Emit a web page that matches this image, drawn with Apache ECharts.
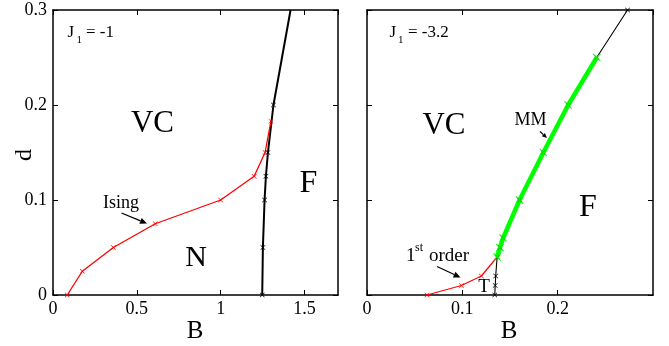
<!DOCTYPE html>
<html>
<head>
<meta charset="utf-8">
<script src="https://cdn.jsdelivr.net/npm/echarts@6/dist/echarts.min.js"></script>
<style>
  html, body { margin: 0; padding: 0; background: #fff; }
  #chart { width: 669px; height: 346px; }
</style>
</head>
<body>
<div id="chart"></div>
<script>
// Phase boundaries in the (B, d) plane

// J1 = -1
const isingB1 = [0.085, 0.175, 0.36, 0.61, 1.0, 1.2, 1.265, 1.30];
const isingD1 = [0, 0.025, 0.05, 0.075, 0.1, 0.125, 0.15, 0.183];
const ferroB1 = [1.248, 1.252, 1.262, 1.27, 1.282, 1.315, 1.417];
const ferroD1 = [0, 0.05, 0.1, 0.125, 0.15, 0.2, 0.3];

// J1 = -3.2
const firstOrderB2 = [0.063, 0.099, 0.12, 0.1365];
const firstOrderD2 = [0, 0.01, 0.02, 0.04];
const ferroB2 = [0.134, 0.1345, 0.135, 0.1365, 0.1395, 0.1428, 0.16, 0.185, 0.211, 0.241, 0.2733];
const ferroD2 = [0, 0.01, 0.02, 0.04, 0.05, 0.06, 0.1, 0.15, 0.2, 0.25, 0.3];
const mmB2 = [0.1365, 0.1395, 0.1428, 0.16, 0.185, 0.211, 0.241];
const mmD2 = [0.04, 0.05, 0.06, 0.1, 0.15, 0.2, 0.25];

// axis ranges
const bTicksLeft = { min: 0, max: 1.7, interval: 0.5 };
const bTicksRight = { min: 0, max: 0.3, interval: 0.1 };
const dTicks = { min: 0, max: 0.3, interval: 0.1 };

const SERIF = '"Liberation Serif", "DejaVu Serif", serif';
const CROSS = 'path://M0,0.8L0.8,0L5,4.2L9.2,0L10,0.8L5.8,5L10,9.2L9.2,10L5,5.8L0.8,10L0,9.2L4.2,5Z';

function pairs(xs, ys) { return xs.map((x, i) => [x, ys[i]]); }
function fmt(v) { return String(+(+v).toFixed(3)); }

function xAxisFor(grid, range, pos, labels) {
  return {
    type: 'value', gridIndex: grid, position: pos,
    min: range.min, max: range.max, interval: range.interval,
    axisLine: { show: true, onZero: false, lineStyle: { color: '#000', width: 1.5 } },
    axisTick: { show: true, inside: true, length: 5, lineStyle: { color: '#000', width: 1 } },
    axisLabel: { show: labels, showMaxLabel: false, margin: 5, color: '#000',
                 fontFamily: SERIF, fontSize: 18, formatter: fmt },
    splitLine: { show: false }
  };
}
function yAxisFor(grid, range, pos, labels) {
  return {
    type: 'value', gridIndex: grid, position: pos,
    min: range.min, max: range.max, interval: range.interval,
    axisLine: { show: true, onZero: false, lineStyle: { color: '#000', width: 1.5 } },
    axisTick: { show: true, inside: true, length: 5, lineStyle: { color: '#000', width: 1 } },
    axisLabel: { show: labels, margin: 6, color: '#000',
                 fontFamily: SERIF, fontSize: 18, formatter: fmt },
    splitLine: { show: false }
  };
}

function lineSeries(xi, yi, data, color, width, symSize, hideLast) {
  return {
    type: 'line', xAxisIndex: xi, yAxisIndex: yi,
    data: data.map((p, i) => (hideLast && i === data.length - 1) ? { value: p, symbol: 'none' } : p),
    symbol: CROSS, symbolSize: symSize, showSymbol: true,
    lineStyle: { color: color, width: width },
    itemStyle: { color: color },
    clip: true, animation: false, z: 2
  };
}

function txt(x, y, s, size, extra) {
  return Object.assign({
    type: 'text', x: x, y: y,
    style: { text: s, fill: '#000', font: size + 'px ' + SERIF,
             align: 'center', verticalAlign: 'middle' },
    z: 10
  }, extra || {});
}
function txtL(x, y, s, size) {
  return { type: 'text', x: x, y: y,
    style: { text: s, fill: '#000', font: size + 'px ' + SERIF, align: 'left', verticalAlign: 'middle' },
    z: 10 };
}
function arrow(x1, y1, x2, y2, head) {
  const a = Math.atan2(y2 - y1, x2 - x1);
  const h = head || 7, w = h * 0.45;
  const bx = x2 - h * Math.cos(a), by = y2 - h * Math.sin(a);
  const px = -Math.sin(a) * w, py = Math.cos(a) * w;
  return [
    { type: 'line', shape: { x1: x1, y1: y1, x2: bx, y2: by },
      style: { stroke: '#000', lineWidth: 1.2 }, z: 10 },
    { type: 'polygon', shape: { points: [[x2, y2], [bx + px, by + py], [bx - px, by - py]] },
      style: { fill: '#000' }, z: 10 }
  ];
}

const chart = echarts.init(document.getElementById('chart'), null, { renderer: 'canvas' });

const graphics = [
  // left panel
  txtL(67.5, 32.5, 'J', 17), txtL(76.5, 40, '1', 11), txtL(86, 32.5, '= -1', 17),
  txt(152.5, 124, 'VC', 31),
  txt(308.5, 184, 'F', 32),
  txt(196, 258, 'N', 30),
  txt(121, 203, 'Ising', 18),
  ...arrow(121.5, 213, 147, 223.5, 7),
  // right panel
  txtL(389.5, 32.5, 'J', 17), txtL(398, 40, '1', 11), txtL(408, 32.5, '= -3.2', 17),
  txt(444, 126, 'VC', 31),
  txt(588, 207.5, 'F', 32),
  txt(530.5, 120.5, 'MM', 18),
  ...arrow(540, 131.5, 547, 138, 5),
  txtL(406, 256, '1', 19), txtL(415, 247.5, 'st', 12), txtL(429, 256.5, 'order', 19),
  ...arrow(437, 266.5, 460.5, 277.5, 7),
  txt(484, 287.5, 'T', 19),
  // axis titles
  txt(195, 331, 'B', 25),
  txt(509, 331, 'B', 25),
  txt(25, 155, 'd', 24, { rotation: Math.PI / 2 })
];

chart.setOption({
  animation: false,
  backgroundColor: '#fff',
  grid: [
    { left: 53, top: 10, width: 285, height: 285 },
    { left: 367, top: 10, width: 286, height: 285 }
  ],
  xAxis: [
    xAxisFor(0, bTicksLeft, 'bottom', true),
    xAxisFor(0, bTicksLeft, 'top', false),
    xAxisFor(1, bTicksRight, 'bottom', true),
    xAxisFor(1, bTicksRight, 'top', false)
  ],
  yAxis: [
    yAxisFor(0, dTicks, 'left', true),
    yAxisFor(0, dTicks, 'right', false),
    yAxisFor(1, dTicks, 'left', false),
    yAxisFor(1, dTicks, 'right', false)
  ],
  series: [
    lineSeries(0, 0, pairs(ferroB1, ferroD1), '#000', 2, 5, true),
    lineSeries(0, 0, pairs(isingB1, isingD1), '#ff0000', 1.3, 5, false),
    lineSeries(2, 2, pairs(firstOrderB2, firstOrderD2), '#ff0000', 1.2, 5, false),
    lineSeries(2, 2, pairs(ferroB2, ferroD2), '#000', 1.1, 5, false),
    lineSeries(2, 2, pairs(mmB2, mmD2), '#00ff00', 4.5, 8, false)
  ],
  graphic: graphics
});
</script>
</body>
</html>
